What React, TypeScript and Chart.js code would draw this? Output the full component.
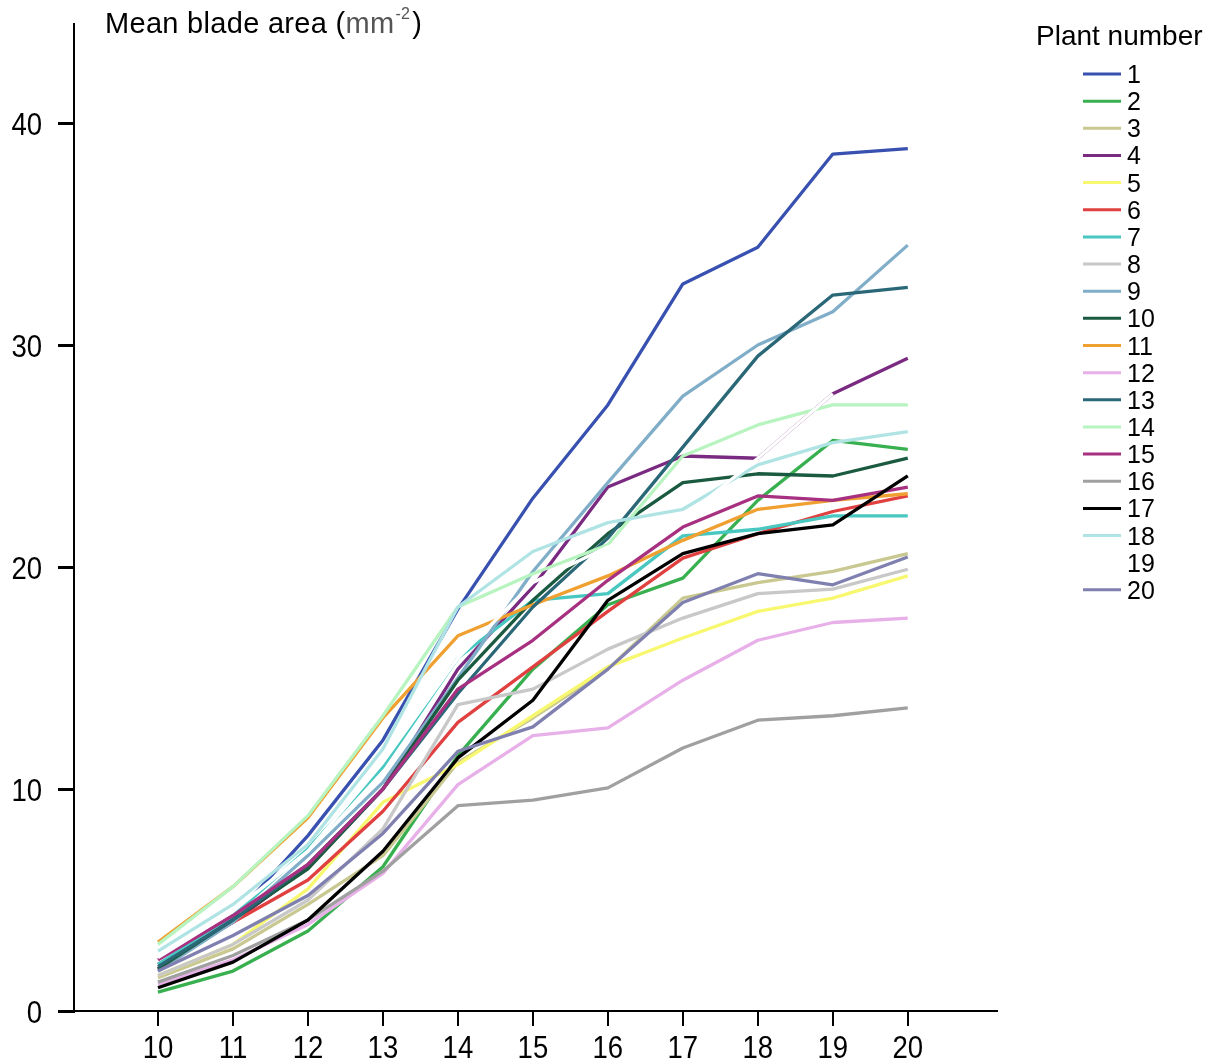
import React, { useEffect, useRef } from "react";
import { Chart, registerables } from "chart.js";

Chart.register(...registerables);

// ---------------- data ----------------
const days = [10, 11, 12, 13, 14, 15, 16, 17, 18, 19, 20];

const plant1 = [1.9, 4.2, 7.9, 12.2, 18.1, 23.1, 27.3, 32.75, 34.4, 38.6, 38.85];
const plant2 = [0.85, 1.8, 3.6, 6.5, 11.5, 15.4, 18.3, 19.5, 23.0, 25.7, 25.3];
const plant3 = [1.5, 2.8, 4.8, 7.0, 11.2, 13.2, 15.4, 18.6, 19.3, 19.8, 20.6];
const plant4 = [2.1, 4.0, 6.5, 10.0, 15.4, 19.1, 23.6, 25.0, 24.9, 27.8, 29.4];
const plant5 = [1.6, 3.0, 5.5, 9.4, 11.1, 13.3, 15.5, 16.8, 18.0, 18.6, 19.6];
const plant6 = [1.9, 4.0, 5.9, 9.0, 13.0, 15.5, 18.0, 20.4, 21.5, 22.5, 23.2];
const plant7 = [2.1, 4.3, 7.3, 11.0, 15.9, 18.5, 18.8, 21.4, 21.7, 22.3, 22.3];
const plant8 = [1.6, 3.0, 5.0, 8.2, 13.8, 14.5, 16.3, 17.7, 18.8, 19.0, 19.9];
const plant9 = [1.8, 4.0, 7.0, 10.3, 15.0, 19.8, 23.8, 27.7, 30.0, 31.5, 34.5];
const plant10 = [1.9, 4.1, 6.4, 10.0, 14.9, 18.5, 21.5, 23.8, 24.2, 24.1, 24.9];
const plant11 = [3.1, 5.6, 8.7, 13.2, 16.9, 18.3, 19.6, 21.2, 22.6, 23.0, 23.3];
const plant12 = [1.2, 2.3, 3.9, 6.2, 10.2, 12.4, 12.75, 14.9, 16.7, 17.5, 17.7];
const plant13 = [2.0, 4.1, 6.6, 10.0, 14.3, 18.2, 21.3, 25.4, 29.5, 32.25, 32.6];
const plant14 = [3.0, 5.6, 8.8, 13.3, 18.2, 19.7, 21.0, 25.0, 26.4, 27.3, 27.3];
const plant15 = [2.3, 4.3, 6.6, 10.0, 14.5, 16.7, 19.4, 21.8, 23.2, 23.0, 23.6];
const plant16 = [1.3, 2.5, 4.1, 6.3, 9.25, 9.5, 10.05, 11.85, 13.1, 13.3, 13.65];
const plant17 = [1.05, 2.2, 4.1, 7.2, 11.4, 14.0, 18.5, 20.6, 21.5, 21.9, 24.1];
const plant18 = [2.7, 4.8, 7.5, 11.8, 18.2, 20.7, 22.0, 22.6, 24.6, 25.6, 26.1];
const plant19 = [2.4, 4.5, 7.2, 11.2, 15.9, 19.3, 20.9, 22.2, 24.9, 27.8, null];
const plant20 = [1.8, 3.4, 5.2, 8.0, 11.7, 12.8, 15.4, 18.4, 19.7, 19.2, 20.45];

const plantSeries = [
  plant1, plant2, plant3, plant4, plant5, plant6, plant7, plant8, plant9, plant10,
  plant11, plant12, plant13, plant14, plant15, plant16, plant17, plant18, plant19, plant20,
];

const plantLabels = [
  "1", "2", "3", "4", "5", "6", "7", "8", "9", "10",
  "11", "12", "13", "14", "15", "16", "17", "18", "19", "20",
];

const plantColors = [
  "#3850b0", "#38b050", "#c8c890", "#7a2a80", "#f8f870",
  "#e04040", "#48c8c0", "#c8c8c8", "#80aec8", "#1a5a40",
  "#f0a030", "#e8b0e8", "#2a6878", "#b8f4c0", "#a83080",
  "#a0a0a0", "#000000", "#b0e4e4", "#ffffff", "#8080b0",
];

const xTickValues = [10, 11, 12, 13, 14, 15, 16, 17, 18, 19, 20];
const yTickValues = [0, 10, 20, 30, 40];

const yTitleMain = "Mean blade area (";
const yTitleUnit = "mm";
const yTitleSup = "-2";
const yTitleEnd = ")";
const legendTitle = "Plant number";

const FONT = "'Liberation Sans', Arial, Helvetica, sans-serif";

const overlayPlugin = {
  id: "overlayTexts",
  afterDraw(chart: any) {
    const ctx = chart.ctx as CanvasRenderingContext2D;
    ctx.save();
    ctx.textBaseline = "alphabetic";
    ctx.textAlign = "left";
    ctx.fillStyle = "#000";

    // condensed tick labels placed through the chart's scales
    const xs = chart.scales.x;
    const ys = chart.scales.y;
    ctx.font = `32px ${FONT}`;
    xTickValues.forEach((v) => {
      const px = xs.getPixelForValue(v);
      ctx.save();
      ctx.translate(px, 1058);
      ctx.scale(0.86, 1);
      ctx.textAlign = "center";
      ctx.fillText(String(v), 0, 0);
      ctx.restore();
    });
    yTickValues.forEach((v) => {
      const py = ys.getPixelForValue(v);
      ctx.save();
      ctx.translate(42, py + 11.5);
      ctx.scale(0.86, 1);
      ctx.textAlign = "right";
      ctx.fillText(String(v), 0, 0);
      ctx.restore();
    });

    // axis title
    ctx.textAlign = "left";
    ctx.font = `29px ${FONT}`;
    (ctx as any).letterSpacing = "0.3px";
    let x = 105;
    const base = 33;
    ctx.fillStyle = "#000";
    ctx.fillText(yTitleMain, x, base);
    x += ctx.measureText(yTitleMain).width;
    ctx.fillStyle = "#555";
    ctx.fillText(yTitleUnit, x, base);
    x += ctx.measureText(yTitleUnit).width;
    ctx.font = `16px ${FONT}`;
    ctx.fillText(yTitleSup, x + 1, base - 14);
    x += ctx.measureText(yTitleSup).width + 3;
    ctx.font = `29px ${FONT}`;
    ctx.fillStyle = "#000";
    ctx.fillText(yTitleEnd, x, base);
    (ctx as any).letterSpacing = "0px";

    // legend
    ctx.font = `28px ${FONT}`;
    ctx.fillStyle = "#000";
    ctx.fillText(legendTitle, 1036, 45);
    ctx.font = `25px ${FONT}`;
    chart.data.datasets.forEach((ds: any, i: number) => {
      const cy = 74 + i * 27.15;
      ctx.strokeStyle = ds.borderColor;
      ctx.lineWidth = 3;
      ctx.beginPath();
      ctx.moveTo(1083, cy);
      ctx.lineTo(1121, cy);
      ctx.stroke();
      ctx.fillStyle = "#000";
      ctx.fillText(ds.label, 1127, cy + 9);
    });
    ctx.restore();
  },
};

export default function App() {
  const canvasRef = useRef<HTMLCanvasElement | null>(null);

  useEffect(() => {
    const canvas = canvasRef.current;
    if (!canvas) return;
    const datasets = plantSeries.map((values, i) => ({
      label: plantLabels[i],
      data: values.map((v, j) => ({ x: days[j], y: v })),
      borderColor: plantColors[i],
      backgroundColor: plantColors[i],
      borderWidth: 3.3,
      pointRadius: 0,
      tension: 0,
      fill: false,
      spanGaps: false,
      order: -i,
    }));

    const chart = new Chart(canvas, {
      type: "line",
      data: { datasets },
      options: {
        animation: false,
        responsive: false,
        devicePixelRatio: 1,
        layout: { padding: { left: 0, top: 24, right: 226, bottom: 0 } },
        plugins: {
          legend: { display: false },
          tooltip: { enabled: false },
          title: { display: false },
        },
        elements: { point: { radius: 0 }, line: { borderJoinStyle: "round" } },
        scales: {
          x: {
            type: "linear",
            min: 8.88,
            max: 21.19,
            afterBuildTicks: (s: any) => {
              s.ticks = xTickValues.map((v) => ({ value: v }));
            },
            afterFit: (s: any) => {
              s.height = 52;
              s.paddingLeft = 0;
              s.paddingRight = 0;
            },
            grid: {
              drawOnChartArea: false,
              drawTicks: true,
              tickLength: 15,
              color: "#000",
              lineWidth: 2,
            },
            border: { display: true, color: "#000", width: 2 },
            ticks: { display: false, autoSkip: false },
          },
          y: {
            type: "linear",
            min: 0,
            max: 44.46,
            afterBuildTicks: (s: any) => {
              s.ticks = yTickValues.map((v) => ({ value: v }));
            },
            afterFit: (s: any) => {
              s.width = 74;
              s.paddingTop = 0;
              s.paddingBottom = 0;
            },
            grid: {
              drawOnChartArea: false,
              drawTicks: true,
              tickLength: 16,
              color: "#000",
              lineWidth: 3,
            },
            border: { display: true, color: "#000", width: 2 },
            ticks: { display: false, autoSkip: false },
          },
        },
      },
      plugins: [overlayPlugin],
    });

    return () => chart.destroy();
  }, []);

  return (
    <div
      style={{
        position: "absolute",
        left: 0,
        top: 0,
        width: 1223,
        height: 1063,
        background: "#fff",
      }}
    >
      <canvas ref={canvasRef} width={1223} height={1063} style={{ display: "block" }} />
    </div>
  );
}
